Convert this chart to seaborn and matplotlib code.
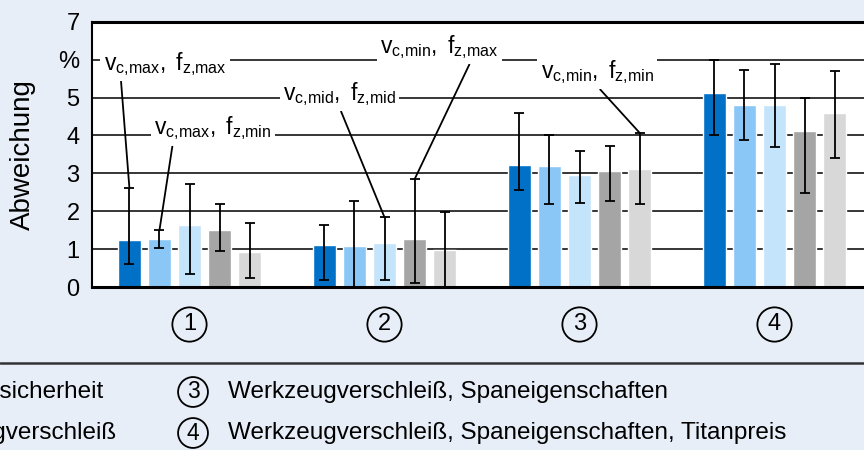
import matplotlib
matplotlib.use("Agg")
import matplotlib.pyplot as plt
from matplotlib.lines import Line2D
import seaborn as sns
import numpy as np
import pandas as pd

# groups (scenarios) and series (cutting parameter combinations)
groups = ["1", "2", "3", "4"]
series = [r"$\mathregular{v_{c{,}max},\ f_{z{,}max}}$",
          r"$\mathregular{v_{c{,}max},\ f_{z{,}min}}$",
          r"$\mathregular{v_{c{,}mid},\ f_{z{,}mid}}$",
          r"$\mathregular{v_{c{,}min},\ f_{z{,}max}}$",
          r"$\mathregular{v_{c{,}min},\ f_{z{,}min}}$"]

mean_vals = [[1.25, 1.12, 3.23, 5.13],
             [1.27, 1.08, 3.20, 4.79],
             [1.63, 1.15, 2.95, 4.79],
             [1.50, 1.27, 3.07, 4.12],
             [0.92, 0.97, 3.12, 4.59]]
upper_vals = [[2.60, 1.63, 4.60, 5.98],
              [1.50, 2.28, 4.01, 5.72],
              [2.71, 1.84, 3.59, 5.88],
              [2.19, 2.84, 3.73, 4.98],
              [1.68, 1.97, 4.07, 5.70]]
lower_vals = [[0.60, 0.19, 2.57, 4.01],
              [1.03, 0.00, 2.20, 3.87],
              [0.34, 0.19, 2.22, 3.69],
              [0.94, 0.11, 2.26, 2.48],
              [0.23, 0.00, 2.18, 3.40]]

ytick_labels = ["0", "1", "2", "3", "4", "5", "%", "7"]
legend_right = ["Prozesssicherheit", "Werkzeugverschleiß"]
legend_items = ["Werkzeugverschleiß, Spaneigenschaften",
                "Werkzeugverschleiß, Spaneigenschaften, Titanpreis"]

colors = ["#0071C6", "#8AC7F6", "#C4E4FB", "#A5A5A5", "#D8D8D8"]
bg = "#E8EEF8"

sns.set_style("white")
plt.rcParams["font.family"] = ["Liberation Sans", "DejaVu Sans"]
plt.rcParams["mathtext.fontset"] = "custom"
plt.rcParams["mathtext.rm"] = "Liberation Sans"
plt.rcParams["mathtext.it"] = "Liberation Sans"
plt.rcParams["text.color"] = "black"
plt.rcParams["axes.labelcolor"] = "black"
plt.rcParams["ytick.color"] = "black"
plt.rcParams["xtick.color"] = "black"

rows = []
for s, name in enumerate(series):
    for g, grp in enumerate(groups):
        rows.append({"Gruppe": grp, "Serie": name, "Wert": mean_vals[s][g]})
df = pd.DataFrame(rows)

fig = plt.figure(figsize=(8.64, 4.5), dpi=100, facecolor=bg)
ax = fig.add_axes([92 / 864, 1 - 287 / 450, 780 / 864, 265.3 / 450])
ax.set_facecolor("white")

sns.barplot(data=df, x="Gruppe", y="Wert", hue="Serie", palette=colors,
            width=0.77, gap=0.23, errorbar=None, legend=False,
            saturation=1, ax=ax, zorder=2)
bars = list(ax.containers)

# asymmetric error bars placed on the bars seaborn drew
for s, cont in enumerate(bars):
    xs = [p.get_x() + p.get_width() / 2 for p in cont.patches]
    m = np.array(mean_vals[s])
    err = [m - np.array(lower_vals[s]), np.array(upper_vals[s]) - m]
    ax.errorbar(xs, m, yerr=err, fmt="none", ecolor="black", elinewidth=1.3,
                capsize=3.6, capthick=1.3, zorder=4)

ax.set_xlim(-0.5, 3.5)
ax.set_ylim(0, 7)
ax.set_yticks(range(8))
ax.set_yticklabels(ytick_labels, fontsize=17)
for yv in range(1, 7):
    ax.axhline(yv, color="black", lw=1.1, zorder=1)
ax.tick_params(axis="y", length=0, pad=9)
ax.tick_params(axis="x", length=0, pad=27)
ax.set_xticks(range(len(groups)))
ax.set_xticklabels(groups, fontsize=17, va="center",
                   bbox=dict(boxstyle="circle,pad=0.26", fc="none", ec="black", lw=1.3))
ax.set_xlabel("")
ax.set_ylabel("Abweichung", fontsize=20)
ax.yaxis.set_label_coords(-0.072, 0.5)

for side in ["top", "bottom"]:
    ax.spines[side].set_linewidth(2.2)
    ax.spines[side].set_color("black")
ax.spines["left"].set_linewidth(1.5)
ax.spines["left"].set_color("black")
ax.spines["right"].set_visible(False)

# labels for the parameter combinations with leader lines
notes = [(0, 0, -0.126, 5.88, 0.14),
         (1, 0, 0.12, 4.19, 0.16),
         (2, 1, 0.77, 5.09, 0.5),
         (3, 1, 1.28, 6.33, 0.77),
         (4, 2, 2.09, 5.67, 0.5)]
for s, g, tx, ty, rx in notes:
    p = bars[s].patches[g]
    bx = p.get_x() + p.get_width() / 2
    ax.annotate(series[s], xy=(bx, upper_vals[s][g]), xytext=(tx, ty),
                ha="center", va="center", fontsize=16.5, zorder=5,
                bbox=dict(boxstyle="square,pad=0.15", fc="white", ec="none"),
                arrowprops=dict(arrowstyle="-", color="black", lw=1.3,
                                relpos=(rx, 0), shrinkA=0, shrinkB=0))

# legend part below the chart
fig.add_artist(Line2D([0, 1], [1 - 363 / 450] * 2, color="#333333", lw=1.8))
row_y = [1 - 392 / 450, 1 - 433 / 450]
fig.text(103 / 864, row_y[0], legend_right[0], ha="right", va="center", fontsize=17.5)
fig.text(117 / 864, row_y[1], legend_right[1], ha="right", va="center", fontsize=17.5)
for i, txt in enumerate(legend_items):
    fig.text(193 / 864, row_y[i], str(i + 3), ha="center", va="center", fontsize=16.5,
             bbox=dict(boxstyle="circle,pad=0.15", fc="none", ec="black", lw=1.3))
    fig.text(228 / 864, row_y[i], txt, ha="left", va="center", fontsize=17.5)

plt.savefig("out.png", dpi=100, facecolor=bg)
